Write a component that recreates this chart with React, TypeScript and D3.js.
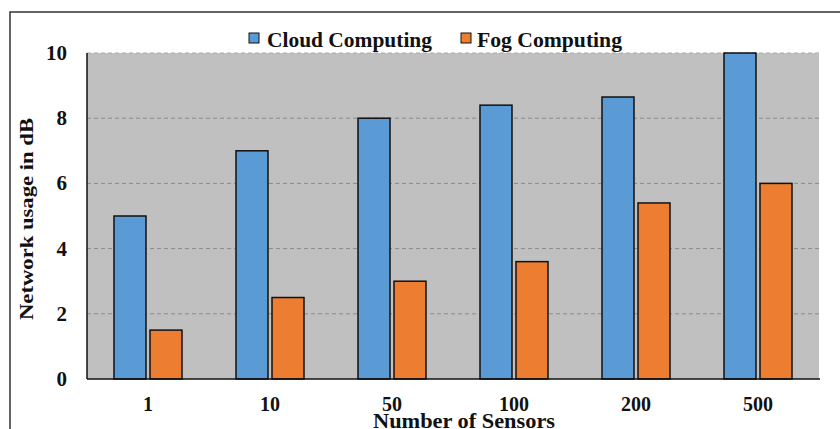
import React from "react";
import * as d3 from "d3";

const categories = ["1", "10", "50", "100", "200", "500"];
const cloudValues = [5, 7, 8, 8.4, 8.65, 10];
const fogValues = [1.5, 2.5, 3, 3.6, 5.4, 6];
const yTicks = [0, 2, 4, 6, 8, 10];
const seriesNames = ["Cloud Computing", "Fog Computing"];
const seriesColors = ["#5b9bd5", "#ed7d31"];

const W = 840;
const H = 429;
const plot = { left: 87, right: 819, top: 53, bottom: 379 };
const FONT = "'Liberation Serif', 'Times New Roman', serif";

// legend layout: swatch x, label x, label width
const legendLayout = [
  { sx: 249, tx: 267, tw: 165 },
  { sx: 461, tx: 477, tw: 145 },
];

export default function App() {
  const x = d3
    .scaleBand<string>()
    .domain(categories)
    .range([plot.left, plot.right])
    .paddingInner(0)
    .paddingOuter(0);
  const y = d3.scaleLinear().domain([0, 10]).range([plot.bottom, plot.top]);
  const barW = 32;
  const gap = 4;

  const series = [cloudValues, fogValues];

  return (
    <svg
      width={W}
      height={H}
      style={{ position: "absolute", left: 0, top: 0, background: "#fff" }}
    >
      {/* frame */}
      <rect
        x={10}
        y={12}
        width={W}
        height={H}
        fill="#fff"
        stroke="#333"
        strokeWidth={1.5}
      />
      {/* plot background */}
      <rect
        x={plot.left}
        y={plot.top}
        width={plot.right - plot.left}
        height={plot.bottom - plot.top}
        fill="#c0c0c0"
      />
      {/* gridlines */}
      {yTicks
        .filter((t) => t > 0)
        .map((t) => (
          <line
            key={t}
            x1={plot.left}
            x2={plot.right}
            y1={y(t)}
            y2={y(t)}
            stroke={t === 10 ? "#a8a8a8" : "#8a8a8a"}
            strokeWidth={1}
            strokeDasharray="4,3"
          />
        ))}
      {/* bars */}
      {categories.map((c, i) => {
        const cx = (x(c) ?? 0) + x.bandwidth() / 2;
        return series.map((vals, s) => {
          const bx = s === 0 ? cx - gap / 2 - barW : cx + gap / 2;
          return (
            <rect
              key={c + s}
              x={bx}
              y={y(vals[i])}
              width={barW}
              height={y(0) - y(vals[i])}
              fill={seriesColors[s]}
              stroke="#111"
              strokeWidth={1.5}
            />
          );
        });
      })}
      {/* axes */}
      <line
        x1={plot.left}
        x2={plot.left}
        y1={plot.top}
        y2={plot.bottom}
        stroke="#111"
        strokeWidth={1.5}
      />
      <line
        x1={plot.left}
        x2={plot.right + 1}
        y1={plot.bottom}
        y2={plot.bottom}
        stroke="#111"
        strokeWidth={1.5}
      />
      {/* y tick labels */}
      {yTicks.map((t) => (
        <text
          key={t}
          x={67}
          y={y(t) + 7}
          textAnchor="end"
          fontFamily={FONT}
          fontWeight="bold"
          fontSize={21}
          fill="#111"
        >
          {t}
        </text>
      ))}
      {/* x tick labels */}
      {categories.map((c) => (
        <text
          key={c}
          x={(x(c) ?? 0) + x.bandwidth() / 2}
          y={411}
          textAnchor="middle"
          fontFamily={FONT}
          fontWeight="bold"
          fontSize={20}
          fill="#111"
        >
          {c}
        </text>
      ))}
      {/* axis titles */}
      <text
        x={373}
        y={428}
        textLength={182}
        lengthAdjust="spacingAndGlyphs"
        fontFamily={FONT}
        fontWeight="bold"
        fontSize={20}
        fill="#111"
      >
        Number of Sensors
      </text>
      <text
        transform="translate(33, 320) rotate(-90)"
        textLength={202}
        lengthAdjust="spacingAndGlyphs"
        fontFamily={FONT}
        fontWeight="bold"
        fontSize={19}
        fill="#111"
      >
        Network usage in dB
      </text>
      {/* legend */}
      {seriesNames.map((name, s) => {
        const L = legendLayout[s];
        return (
          <g key={name}>
            <rect
              x={L.sx}
              y={33}
              width={10}
              height={10}
              fill={seriesColors[s]}
              stroke="#111"
              strokeWidth={1}
            />
            <text
              x={L.tx}
              y={47}
              textLength={L.tw}
              lengthAdjust="spacingAndGlyphs"
              fontFamily={FONT}
              fontWeight="bold"
              fontSize={21}
              fill="#111"
            >
              {name}
            </text>
          </g>
        );
      })}
    </svg>
  );
}
